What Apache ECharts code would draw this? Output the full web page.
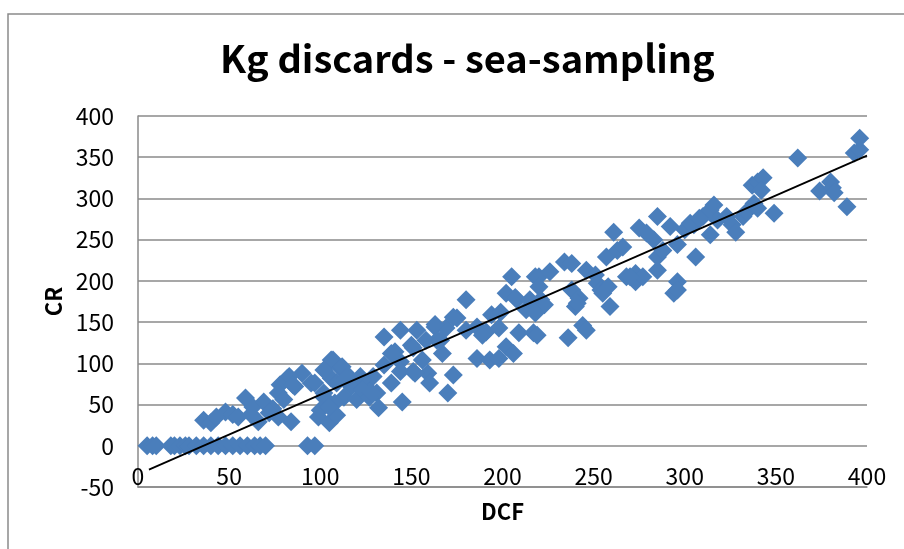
<!DOCTYPE html>
<html>
<head>
<meta charset="utf-8">
<script src="https://cdn.jsdelivr.net/npm/echarts@6/dist/echarts.min.js"></script>
<style>
  html, body { margin: 0; padding: 0; background: #ffffff; }
  #chart { width: 904px; height: 549px; }
</style>
</head>
<body>
<div id="chart"></div>
<script>
// Discard weights per trip: DCF estimate (x) against CR estimate (y), kg
const dcf = [
  5, 8, 10, 18, 20, 23, 26, 28, 32, 36, 40, 44, 48, 52, 56, 60, 64, 67, 70, 93, 97,
  36, 40, 43, 48, 52, 55, 59, 63, 66, 69, 62, 77, 78, 77, 82, 80, 84, 86, 90, 95, 99, 102, 106, 106, 105, 83, 85, 97, 74, 72,
  107, 102, 111, 114, 122, 109, 117, 125, 129, 131, 113, 120, 108, 132, 145, 102, 100, 109, 105, 112, 114, 123, 123, 127, 128,
  135, 144, 153, 150, 141, 135, 144, 139, 151, 156, 159, 160, 163, 164, 167, 169, 175, 173, 170, 139, 151, 158, 166, 144, 152,
  180, 180, 186, 186, 191, 193, 194, 198, 199, 198, 202, 202, 205, 206, 208, 209, 213, 218, 217, 173, 163, 189, 207,
  219, 236, 244, 246, 215, 219, 223, 220, 226, 220, 234, 238, 238, 242, 240, 246, 251, 252, 254, 258, 259, 257, 221, 218, 241, 255,
  263, 261, 266, 268, 273, 273, 277, 275, 279, 283, 285, 285, 285, 288, 292, 296, 296, 294, 296, 270,
  300, 305, 306, 314, 316, 318, 314, 310, 303, 308, 323, 326, 328, 332, 334, 338, 337, 340, 343, 342, 340, 349,
  362, 374, 380, 381, 382, 389, 393, 396, 396
];
const cr = [
  0, 0, 0, 0, 0, 0, 0, 0, 0, 0, 0, 0, 0, 0, 0, 0, 0, 0, 0, 0, 0,
  31, 28, 35, 41, 38, 35, 58, 47, 29, 53, 38, 35, 74, 64, 82, 56, 29, 72, 88, 76, 35, 59, 104, 82, 28, 84, 74, 76, 45, 40,
  104, 92, 94, 88, 84, 76, 72, 72, 84, 64, 59, 56, 52, 46, 53, 64, 43, 37, 47, 96, 82, 80, 68, 59, 65,
  132, 140, 140, 122, 114, 98, 102, 76, 90, 104, 88, 76, 144, 128, 112, 143, 155, 86, 64, 112, 119, 128, 128, 90, 88,
  177, 140, 144, 106, 138, 104, 159, 106, 162, 143, 120, 185, 205, 112, 177, 137, 165, 205, 137, 156, 147, 134, 180,
  134, 131, 146, 140, 177, 169, 171, 205, 211, 193, 223, 221, 189, 179, 169, 213, 207, 197, 189, 193, 169, 229, 177, 161, 173, 185,
  237, 259, 241, 205, 209, 199, 205, 264, 258, 250, 213, 278, 229, 237, 266, 244, 199, 185, 189, 205,
  262, 268, 229, 286, 292, 274, 256, 278, 270, 276, 278, 268, 259, 278, 284, 294, 316, 320, 325, 310, 288, 282,
  349, 309, 320, 313, 307, 290, 355, 359, 373
];

// Linear trend line endpoints (DCF, CR)
const trendX = [6, 400];
const trendY = [-29, 352];

// Axis ranges and ticks
const xTicks = [0, 400, 50];
const yTicks = [-50, 400, 50];

const points = dcf.map((x, i) => [x, cr[i]]);
const trend = trendX.map((x, i) => [x, trendY[i]]);

const FONT = '"Noto Sans CJK SC", "Liberation Sans", sans-serif';
const GRID_COLOR = '#8a8a8a';

const chart = echarts.init(document.getElementById('chart'), null, { renderer: 'canvas' });
chart.setOption({
  backgroundColor: '#ffffff',
  animation: false,
  title: {
    text: 'Kg discards - sea-sampling',
    left: 215,
    top: 35,
    textStyle: { fontFamily: FONT, fontWeight: 'bold', fontSize: 38, color: '#000000' }
  },
  graphic: [{
    type: 'rect',
    shape: { x: 8, y: 14, width: 1000, height: 1000 },
    style: { fill: 'none', stroke: '#8a8a8a', lineWidth: 1.5 },
    silent: true
  }],
  grid: { left: 138, right: 37, top: 116, bottom: 62 },
  xAxis: {
    type: 'value',
    min: xTicks[0], max: xTicks[1], interval: xTicks[2],
    name: 'DCF',
    nameLocation: 'middle',
    nameGap: 14,
    nameTextStyle: { fontFamily: FONT, fontWeight: 'bold', fontSize: 22, color: '#000000' },
    axisLine: { show: true, onZero: false, lineStyle: { color: GRID_COLOR, width: 1.5 } },
    axisTick: { show: false },
    axisLabel: { fontFamily: FONT, fontSize: 23, color: '#000000', margin: -11, verticalAlign: 'middle' },
    splitLine: { show: false }
  },
  yAxis: {
    type: 'value',
    min: yTicks[0], max: yTicks[1], interval: yTicks[2],
    name: 'CR',
    nameLocation: 'middle',
    nameGap: 67,
    nameRotate: 90,
    nameTextStyle: { fontFamily: FONT, fontWeight: 'bold', fontSize: 22, color: '#000000' },
    axisLine: { show: true, onZero: false, lineStyle: { color: GRID_COLOR, width: 1.5 } },
    axisTick: { show: false },
    axisLabel: { fontFamily: FONT, fontSize: 23, color: '#000000', margin: 24 },
    splitLine: { show: true, lineStyle: { color: GRID_COLOR, width: 1.5 } }
  },
  series: [
    {
      type: 'scatter',
      data: points,
      symbol: 'diamond',
      symbolSize: 19,
      itemStyle: { color: '#4a7ebb', opacity: 1 },
      z: 2
    },
    {
      type: 'line',
      data: trend,
      symbol: 'none',
      lineStyle: { color: '#000000', width: 1.8 },
      z: 3
    }
  ]
});
</script>
</body>
</html>
